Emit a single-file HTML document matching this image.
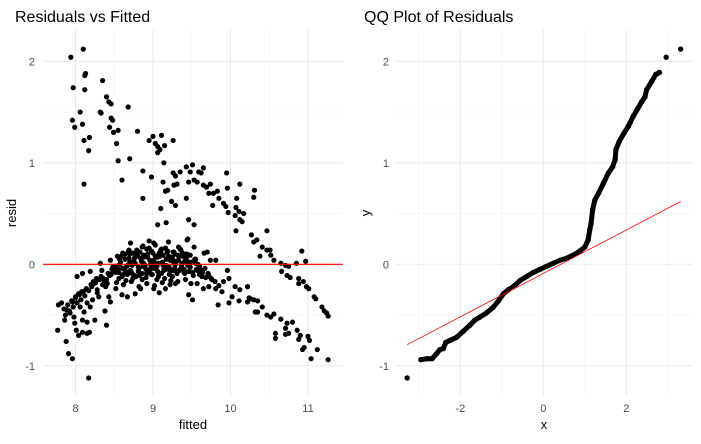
<!DOCTYPE html>
<html><head><meta charset="utf-8"><style>
body{margin:0;background:#fff;width:701px;height:439px;overflow:hidden;font-family:"Liberation Sans",sans-serif}
svg text{font-family:"Liberation Sans",sans-serif}
</style></head><body>
<svg id="chart" width="701" height="439" xmlns="http://www.w3.org/2000/svg"></svg>
<script>
const fitted=[7.94,8.10,8.13,8.12,7.97,8.12,8.35,8.40,8.43,8.46,8.32,8.33,8.06,8.68,7.96,7.99,8.09,8.46,8.48,8.44,8.49,8.55,8.53,8.11,8.18,8.17,8.80,8.55,8.70,8.11,8.60,8.87,8.87,8.95,9.00,9.11,9.03,9.06,9.15,9.06,9.09,9.26,9.14,8.98,9.13,9.16,9.19,9.10,9.06,9.17,9.24,9.29,9.26,9.29,9.27,9.31,9.35,9.43,9.46,9.43,9.51,9.53,9.48,9.59,9.65,9.62,9.57,9.65,9.69,9.74,9.72,9.78,9.83,9.77,9.85,9.91,9.94,9.95,9.96,9.97,10.06,10.08,10.07,10.12,10.11,10.12,10.15,10.17,10.07,10.31,10.30,10.27,10.34,10.30,10.41,10.47,10.52,10.51,10.56,10.47,10.38,10.65,10.71,10.75,10.66,10.73,10.77,10.85,10.97,10.92,10.88,10.94,10.98,10.88,11.01,11.08,11.10,11.18,11.21,11.26,11.24,
7.77,7.78,7.82,7.86,7.88,7.91,7.96,7.89,7.93,7.98,7.99,8.01,7.96,8.00,8.04,8.08,8.02,8.09,8.06,8.11,8.15,8.19,8.04,8.09,8.15,8.18,8.09,8.15,8.17,8.25,8.19,8.24,8.28,8.32,8.34,8.36,8.30,8.38,8.40,8.41,8.45,8.43,8.45,8.49,8.54,8.56,8.52,8.60,8.67,8.61,8.69,8.71,8.65,8.73,8.73,8.77,8.84,8.80,8.86,8.88,8.92,8.95,9.01,9.03,9.05,9.01,9.08,9.10,9.12,9.14,9.16,9.20,9.22,9.25,9.29,9.27,9.33,9.38,9.40,9.44,9.46,9.45,9.46,9.51,9.49,9.53,9.53,9.55,9.57,9.57,9.63,9.66,9.70,9.65,9.70,9.74,9.81,9.72,9.81,9.85,9.91,9.89,9.96,9.98,9.84,9.98,10.02,10.06,10.12,10.22,10.11,10.22,10.24,10.26,10.30,10.35,10.32,10.35,10.41,10.47,10.52,10.56,10.58,10.58,10.65,10.71,10.73,10.75,10.71,10.80,10.86,10.90,10.88,11.00,11.02,10.93,10.95,11.04,11.12,11.26,
8.55,8.58,8.62,8.64,8.66,8.70,8.72,8.75,8.78,8.80,8.82,8.84,8.86,8.88,8.90,8.92,8.94,8.96,8.98,9.00,9.02,9.04,9.06,9.08,9.10,9.12,9.14,9.16,9.18,9.20,9.22,9.24,9.26,9.28,9.30,9.32,9.34,9.36,9.38,9.40,9.42,9.44,9.48,9.52,9.56,
8.60,8.65,8.68,8.74,8.79,8.83,8.87,8.91,8.95,8.99,9.03,9.07,9.11,9.15,9.19,9.23,9.27,9.31,9.35,9.39,9.43,9.47,9.51,9.55,9.60,
8.50,8.57,8.63,8.70,8.76,8.81,8.85,8.89,8.93,8.97,9.01,9.05,9.09,9.13,9.17,9.21,9.25,9.29,9.33,9.37,9.41,9.45,9.50,9.58,8.35,8.40,8.28,8.22,8.46,
8.56,8.61,8.67,8.71,8.76,8.81,8.86,8.91,8.96,9.01,9.06,9.11,9.16,9.21,9.26,9.31,9.36,9.41,9.46,9.52,
8.59,8.64,8.69,8.74,8.78,8.83,8.88,8.93,8.98,9.03,9.08,9.13,9.18,9.23,9.28,9.33,9.38,9.43,9.48,9.54,
8.53,8.62,8.72,8.82,8.92,9.02,9.12,9.22,9.32,9.42,8.57,8.67,8.77,8.87,8.97,9.07,9.17,9.27,9.37,9.47,
7.85,7.90,7.95,8.00,8.05,8.10,8.14,8.20,8.23,8.27,7.87,7.92,7.97,8.02,8.07,8.12,8.17,8.21,8.26,8.31,
8.33,8.37,8.42,8.47,8.51,8.36,8.44,8.48,8.52,8.39,
9.60,9.64,9.68,9.72,9.76,9.80,9.62,9.67,9.71,9.75];
const resid=[2.04,2.12,1.88,1.86,1.74,1.72,1.81,1.65,1.60,1.58,1.50,1.49,1.50,1.55,1.42,1.35,1.38,1.44,1.42,1.35,1.30,1.32,1.19,1.22,1.25,1.12,1.31,1.02,1.04,0.79,0.83,0.92,0.65,1.22,1.26,1.27,1.19,1.16,1.17,1.10,1.13,1.22,1.00,0.86,0.81,0.72,0.73,0.55,0.39,0.41,0.62,0.58,0.90,0.87,0.78,0.79,0.91,0.96,0.81,0.65,0.98,0.83,0.91,0.91,0.95,0.90,0.81,0.78,0.76,0.79,0.70,0.70,0.72,0.58,0.65,0.60,0.57,0.90,0.75,0.51,0.48,0.65,0.56,0.79,0.52,0.44,0.42,0.50,0.33,0.73,0.66,0.29,0.24,0.22,0.17,0.14,0.09,0.14,0.04,0.33,0.08,0.01,-0.01,-0.02,-0.07,-0.11,-0.13,0.01,0.03,0.13,-0.14,-0.17,-0.22,-0.19,-0.24,-0.32,-0.34,-0.42,-0.46,-0.51,-0.48,
-0.65,-0.40,-0.38,-0.55,-0.76,-0.88,-0.93,-0.45,-0.48,-0.52,-0.58,-0.65,-0.37,-0.33,-0.29,-0.27,-0.12,-0.09,-0.42,-0.47,-0.38,-0.42,-0.70,-0.67,-0.68,-0.67,-0.55,-0.57,-1.12,-0.55,-0.07,-0.19,-0.25,0.01,-0.06,-0.14,-0.32,-0.46,-0.60,-0.19,0.04,-0.32,-0.37,-0.06,0.08,-0.14,-0.24,-0.30,-0.32,0.11,0.14,0.21,-0.07,-0.09,-0.01,-0.29,-0.24,0.08,0.17,0.01,-0.09,0.23,0.21,0.01,-0.15,-0.24,-0.28,0.14,0.01,-0.06,-0.24,0.22,0.04,-0.12,-0.19,0.01,0.17,0.08,-0.05,0.24,0.44,0.25,-0.30,-0.35,-0.19,0.39,0.17,0.01,-0.06,-0.19,-0.12,0.11,0.12,-0.24,-0.12,0.04,0.04,-0.22,-0.24,-0.21,-0.17,-0.27,-0.06,-0.14,-0.40,-0.38,-0.32,-0.22,-0.25,-0.22,-0.36,-0.37,-0.33,-0.34,-0.35,-0.36,-0.47,-0.47,-0.42,-0.50,-0.52,-0.49,-0.68,-0.73,-0.54,-0.63,-0.58,-0.68,-0.69,-0.57,-0.65,-0.70,-0.74,-0.71,-0.75,-0.84,-0.82,-0.93,-0.84,-0.94,
-0.05,0.02,-0.10,0.05,-0.02,0.10,-0.08,0.03,-0.12,0.12,-0.04,0.06,-0.15,0.09,-0.01,0.15,-0.06,0.04,-0.10,0.11,0.00,-0.03,0.07,-0.09,0.13,0.02,-0.05,0.16,-0.02,0.08,-0.07,0.05,0.12,-0.04,0.03,0.09,-0.06,0.14,0.01,-0.08,0.06,0.10,-0.03,0.02,-0.05,
-0.12,-0.16,0.12,-0.14,0.14,-0.11,0.18,-0.13,0.16,-0.10,0.19,-0.12,0.15,-0.14,0.13,-0.16,0.12,-0.09,0.15,-0.05,0.10,0.02,-0.08,0.05,-0.02,
-0.02,0.05,-0.05,0.02,0.06,-0.03,0.03,-0.01,0.07,-0.04,0.04,-0.02,0.08,-0.01,0.05,-0.03,0.06,0.00,0.04,-0.02,0.03,-0.01,0.02,0.00,-0.20,-0.15,-0.28,-0.35,-0.10,
-0.08,-0.04,-0.10,-0.06,-0.11,-0.07,-0.09,-0.05,-0.08,-0.04,-0.07,-0.09,-0.05,-0.10,-0.06,-0.08,-0.04,-0.09,-0.07,-0.11,
0.08,0.10,0.06,0.11,0.09,0.12,0.07,0.10,0.13,0.08,0.11,0.09,0.12,0.07,0.10,0.08,0.11,0.06,0.09,0.05,
-0.18,-0.20,-0.17,-0.22,-0.19,-0.21,-0.18,-0.20,-0.17,-0.15,0.00,-0.01,0.01,-0.02,0.00,0.01,-0.01,0.02,0.00,-0.01,
-0.44,-0.40,-0.36,-0.32,-0.30,-0.27,-0.24,-0.20,-0.17,-0.14,-0.50,-0.46,-0.42,-0.38,-0.35,-0.31,-0.26,-0.22,-0.18,-0.15,
-0.12,-0.16,-0.09,-0.05,-0.02,-0.20,-0.11,-0.03,-0.08,-0.22,
-0.10,-0.08,-0.13,-0.11,-0.15,-0.17,-0.06,-0.04,-0.09,-0.14];

const qqTheo=[-3.28,-2.95,-2.80,-2.68,-2.57,-2.49,-2.41,-2.35,-2.25,-2.09,-1.93,-1.77,-1.65,-1.53,-1.37,-1.20,-1.08,-0.96,-0.84,-0.72,-0.56,-0.40,-0.24,-0.08,0.08,0.24,0.40,0.56,0.72,0.88,1.00,1.08,1.12,1.15,1.19,1.24,1.33,1.45,1.57,1.67,1.73,1.75,1.83,1.94,2.05,2.17,2.27,2.37,2.45,2.49,2.61,2.71,2.80,2.96,3.31];
const qqSample=[-1.12,-0.94,-0.93,-0.93,-0.88,-0.84,-0.83,-0.77,-0.75,-0.72,-0.66,-0.60,-0.55,-0.52,-0.48,-0.42,-0.36,-0.29,-0.25,-0.22,-0.16,-0.12,-0.08,-0.05,-0.02,0.01,0.04,0.06,0.09,0.13,0.17,0.24,0.34,0.40,0.54,0.63,0.70,0.80,0.90,0.96,1.03,1.13,1.21,1.29,1.36,1.46,1.53,1.60,1.65,1.72,1.80,1.87,1.89,2.04,2.12];
const qqLineIntercept=[-0.09];
const qqLineSlope=[0.214];
const leftXTicks=[8,9,10,11];
const rightXTicks=[-2,0,2];
const yTicks=[-1,0,1,2];

const NS="http://www.w3.org/2000/svg";
const svg=document.getElementById('chart');
function mk(tag,attrs,parent){const e=document.createElementNS(NS,tag);for(const k in attrs)e.setAttribute(k,attrs[k]);(parent||svg).appendChild(e);return e;}
const yS=v=>264.3-v*101.5;
const lx=v=>153+(v-9)*77.5;
const rx=v=>543.3+v*41.5;
const P={top:30,bottom:396};

function panel(name,x0,x1,xs,majX,minX,yl){
  const g=mk('g',{});
  
  
  [-1.5,-0.5,0.5,1.5,2.5].forEach(v=>{const y=yS(v);if(y>P.top&&y<P.bottom){const l=mk('line',{x1:x0,x2:x1,y1:y,y2:y,stroke:'#f2f2f2','stroke-width':0.6},g);}});
  minX.forEach(v=>{const x=xs(v);if(x>x0&&x<x1){const l=mk('line',{x1:x,x2:x,y1:P.top,y2:P.bottom,stroke:'#f2f2f2','stroke-width':0.6},g);}});
  yTicks.forEach(v=>{const y=yS(v);const l=mk('line',{x1:x0,x2:x1,y1:y,y2:y,stroke:'#ebebeb','stroke-width':1.1},g);
    const t=mk('text',{x:yl,y:y+4,'text-anchor':'end','font-size':11,fill:'#4d4d4d'},g);t.textContent=v;});
  majX.forEach(v=>{const x=xs(v);const l=mk('line',{x1:x,x2:x,y1:P.top,y2:P.bottom,stroke:'#ebebeb','stroke-width':1.1},g);
    const t=mk('text',{x:x,y:412,'text-anchor':'middle','font-size':11,fill:'#4d4d4d'},g);t.textContent=v;});
  return g;
}
const gl=panel('residuals-vs-fitted-panel',43,343,lx,leftXTicks,[7.5,8.5,9.5,10.5,11.5],35);
const gr=panel('qq-plot-panel',395,693,rx,rightXTicks,[-3,-1,1,3],389);

fitted.forEach((f,i)=>{const c=mk('circle',{cx:lx(f),cy:yS(resid[i]),r:2.6,fill:'#000'},gl);

});
const zl=mk('line',{x1:43,x2:343,y1:yS(0),y2:yS(0),stroke:'#ff0000','stroke-width':1.1},gl);



const pl=mk('polyline',{points:qqTheo.map((t,i)=>rx(t)+','+yS(qqSample[i])).slice(1,-2).join(' '),fill:'none',stroke:'#000','stroke-width':5,'stroke-linejoin':'round'},gr);


qqTheo.forEach((t,i)=>{const c=mk('circle',{cx:rx(t),cy:yS(qqSample[i]),r:2.7,fill:'#000'},gr);

});
const xa=qqTheo[0],xb=qqTheo[qqTheo.length-1];
const ql=mk('line',{x1:rx(xa),x2:rx(xb),y1:yS(qqLineIntercept[0]+qqLineSlope[0]*xa),y2:yS(qqLineIntercept[0]+qqLineSlope[0]*xb),stroke:'#ff0000','stroke-width':0.8},gr);



function txt(s,attrs,name){const t=mk('text',attrs);t.textContent=s;}
txt('Residuals vs Fitted',{x:15,y:22,'font-size':16,fill:'#000'},'left-title');
txt('QQ Plot of Residuals',{x:364,y:22,'font-size':16,fill:'#000'},'right-title');
txt('fitted',{x:193,y:429,'text-anchor':'middle','font-size':13,fill:'#000'},'left-x-axis-title');
txt('x',{x:544,y:429,'text-anchor':'middle','font-size':13,fill:'#000'},'right-x-axis-title');
txt('resid',{x:0,y:0,'text-anchor':'middle','font-size':13,fill:'#000',transform:'translate(16,213) rotate(-90)'},'left-y-axis-title');
txt('y',{x:0,y:0,'text-anchor':'middle','font-size':13,fill:'#000',transform:'translate(370,213) rotate(-90)'},'right-y-axis-title');
</script>
</body></html>
